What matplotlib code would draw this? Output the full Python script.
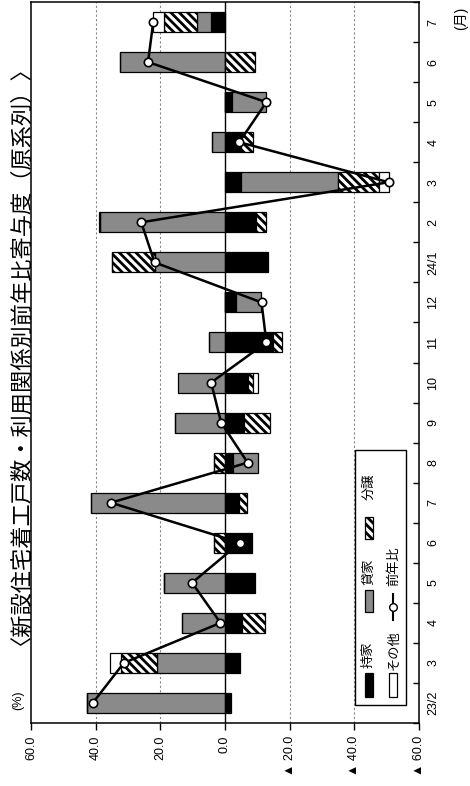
import matplotlib
matplotlib.use('Agg')
import matplotlib.pyplot as plt
from matplotlib.patches import Rectangle
from matplotlib.lines import Line2D
import numpy as np

plt.rcParams['font.family'] = ['Liberation Sans', 'Noto Sans CJK JP', 'DejaVu Sans']
plt.rcParams['hatch.linewidth'] = 2.0

# ---- data (contribution to y/y change, %) ----
months = ['23/2', '3', '4', '5', '6', '7', '8', '9', '10', '11', '12',
          '24/1', '2', '3', '4', '5', '6', '7']
owner = [-1.8, -4.7, -5.4, -9.3, -8.2, -4.4, -2.5, -5.9, -7.0, -14.9, -3.4,
         -13.3, -9.5, -4.9, -5.1, -2.2, 0.0, 4.4]          # 持家
rental = [42.6, 20.9, 13.2, 19.0, 0.0, 41.5, -7.7, 15.4, 14.6, 4.8, -7.6,
          21.5, 38.8, -30.0, 3.9, -10.6, 32.5, 4.3]        # 貸家
forsale = [0.0, 11.3, -7.0, 0.0, 3.5, -2.4, 3.3, -8.1, -1.8, -2.8, 0.0,
           13.6, -3.3, -12.8, -3.6, 0.0, -9.2, 10.3]       # 分譲
others = [0.0, 3.3, 0.0, 0.0, 0.0, 0.0, 0.0, 0.0, -1.5, 0.0, 0.0,
          0.0, 0.3, -2.9, 0.0, 0.0, 0.0, 3.3]              # その他
total = [40.9, 31.3, 1.4, 10.2, -4.6, 35.3, -7.0, 1.2, 4.3, -12.8, -11.3,
         21.8, 25.9, -50.6, -4.4, -12.8, 23.8, 22.2]       # 前年比

value_ticks = [60, 40, 20, 0, -20, -40, -60]
title = '〈新設住宅着工戸数・利用関係別前年比寄与度（原系列）〉'

W, H = 470, 786
fig = plt.figure(figsize=(W / 100, H / 100), dpi=100)
ax = fig.add_axes([31 / W, 63 / H, 388 / W, 721 / H])

def fx(x):
    return x / W

def fy(y):
    return 1 - y / H

# chart is drawn turned on its side: months go up, values run right-to-left
y = np.arange(len(months))
pos_base = np.zeros(len(months))
neg_base = np.zeros(len(months))
styles = [
    (owner, dict(color='black', edgecolor='black')),
    (rental, dict(color='#8a8a8a', edgecolor='black')),
    (forsale, dict(color='white', edgecolor='black', hatch='\\\\\\\\')),
    (others, dict(color='white', edgecolor='black')),
]
for vals, st in styles:
    v = np.array(vals)
    base = np.where(v >= 0, pos_base, neg_base)
    ax.barh(y, v, left=base, height=0.5, linewidth=0.9, zorder=3, **st)
    pos_base += np.where(v >= 0, v, 0)
    neg_base += np.where(v < 0, v, 0)

ax.plot(total, y, color='black', lw=1.8, marker='o', markersize=6,
        markerfacecolor='white', markeredgecolor='black', markeredgewidth=1.2,
        zorder=5)

ax.axvline(0, color='black', lw=1.0, zorder=4)
for g in [40, 20, -20, -40]:
    ax.axvline(g, color='#888888', lw=0.8, ls=(0, (2, 2)), zorder=1)

ax.set_xlim(60, -60)
ax.set_ylim(-0.5, len(months) - 0.5)

ax.set_xticks(value_ticks)
ax.set_xticklabels([f'{v:.1f}' if v >= 0 else f'▲ {abs(v):.1f}' for v in value_ticks],
                   rotation=90, va='top', ha='center', fontsize=9)
ax.tick_params(axis='x', direction='out', length=5, width=1, pad=4)

ax.yaxis.tick_right()
ax.set_yticks(y)
ax.set_yticklabels(months, rotation=90, va='center', ha='left', fontsize=9)
ax.set_yticks(np.arange(len(months) + 1) - 0.5, minor=True)
ax.tick_params(axis='y', which='major', length=0, pad=6)
ax.tick_params(axis='y', which='minor', direction='in', length=4, width=1)
for s in ax.spines.values():
    s.set_linewidth(1.1)

# texts around the chart
fig.text(fx(11), fy(345), title, rotation=90, ha='center', va='center', fontsize=16)
fig.text(fx(18), fy(700), '(%)', rotation=90, ha='center', va='center', fontsize=9)
fig.text(fx(461), fy(18), '(月)', rotation=90, ha='center', va='center', fontsize=10)

# legend, drawn by hand because it is turned too
fig.add_artist(Rectangle((fx(355), fy(705)), 51 / W, 255 / H, transform=fig.transFigure,
                         facecolor='white', edgecolor='black', lw=1.0, zorder=6))
icons = [
    ((365, 673, 8, 24), dict(facecolor='black', edgecolor='black')),
    ((365, 590, 8, 22), dict(facecolor='#8a8a8a', edgecolor='black')),
    ((365, 517, 8, 22), dict(facecolor='white', edgecolor='black', hatch='\\\\\\\\')),
    ((389, 673, 8, 24), dict(facecolor='white', edgecolor='black')),
]
for (x0, y0, w, h), st in icons:
    fig.add_artist(Rectangle((fx(x0), fy(y0 + h)), w / W, h / H, transform=fig.transFigure,
                             lw=0.9, zorder=7, **st))
fig.add_artist(Line2D([fx(393), fx(393)], [fy(620), fy(594)], transform=fig.transFigure,
                      color='black', lw=1.5, zorder=7))
fig.add_artist(Line2D([fx(393)], [fy(607)], transform=fig.transFigure, marker='o',
                      markersize=5.5, markerfacecolor='white', markeredgecolor='black',
                      zorder=8))
for tx, ty, s in [(369, 655, '持家'), (369, 572, '貸家'), (369, 487, '分譲'),
                  (394, 650, 'その他'), (394, 566, '前年比')]:
    fig.text(fx(tx), fy(ty), s, rotation=90, ha='center', va='center', fontsize=9.5,
             zorder=8)

fig.savefig('out.png', dpi=100)
